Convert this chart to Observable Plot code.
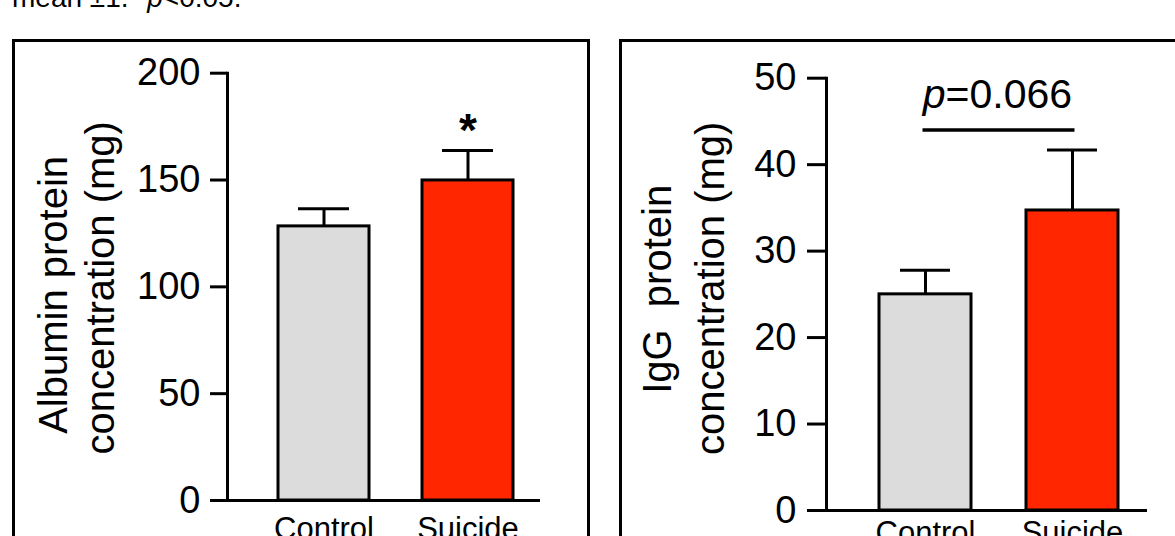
<!DOCTYPE html>
<html>
<head>
<meta charset="utf-8">
<script src="https://cdn.jsdelivr.net/npm/d3@7"></script>
<script src="https://cdn.jsdelivr.net/npm/@observablehq/plot@0.6"></script>
<style>
  html, body { margin: 0; padding: 0; width: 1175px; height: 536px; overflow: hidden; background: #fff;
    font-family: "Liberation Sans", Arial, Helvetica, sans-serif; color: #000; }
  #caption { position: absolute; left: 12px; top: -16px; font-size: 28px; line-height: 28px; white-space: nowrap; }
  .panel { position: absolute; top: 39px; height: 620px; border: 3px solid #000; box-sizing: border-box; }
  #p1 { left: 12px; width: 578px; }
  #p2 { left: 619px; width: 700px; }
  .chart { position: absolute; top: 43px; width: 570px; }
  .chart svg { max-width: none !important; }
  #c1 { left: 15px; }
  #c2 { left: 622px; }
</style>
</head>
<body>
<div id="caption">mean ±1. *<i>p</i>&lt;0.05.</div>
<div class="panel" id="p1"></div>
<div class="panel" id="p2"></div>
<div class="chart" id="c1"></div>
<div class="chart" id="c2"></div>
<script>
// ---- data ----
const groups = ["Control", "Suicide"];
const barColors = ["#dcdcdc", "#ff2600"];
const albuminMean = [128.3, 149.8];
const albuminErr = [8.3, 14.0];
const albuminSig = ["", "*"];
const albuminTicks = [0, 50, 100, 150, 200];
const iggMean = [25.0, 34.7];
const iggErr = [2.8, 7.0];
const iggTicks = [0, 10, 20, 30, 40, 50];
const iggComparison = [{from: "Control", to: "Suicide", y: 44, label: "=0.066"}];

const FONT = "'Liberation Sans', Arial, Helvetica, sans-serif";
const rowsOf = (means, errs, sig) => groups.map((g, i) => ({
  group: g, value: means[i], hi: means[i] + errs[i], sig: sig ? sig[i] : ""
}));
const albumin = rowsOf(albuminMean, albuminErr, albuminSig);
const igg = rowsOf(iggMean, iggErr, null);

function barMarks(rows, capInset) {
  return [
    Plot.barY(rows, {x: "group", y: "value", fill: "group", stroke: "#000", strokeWidth: 3}),
    Plot.ruleX(rows, {x: "group", y1: "value", y2: "hi", stroke: "#000", strokeWidth: 3}),
    Plot.tickY(rows, {x: "group", y: "hi", stroke: "#000", strokeWidth: 3, insetLeft: capInset, insetRight: capInset}),
    Plot.ruleY([0], {stroke: "#000", strokeWidth: 3}),
    Plot.frame({anchor: "left", stroke: "#000", strokeWidth: 3})
  ];
}
const plotStyle = {fontFamily: FONT, color: "#000", background: "none", overflow: "visible", maxWidth: "none"};

const left = Plot.plot({
  width: 570, height: 520,
  marginLeft: 212, marginRight: 45, marginTop: 29.7, marginBottom: 63,
  style: plotStyle,
  x: {type: "band", domain: groups, range: [209.5, 552], padding: 0.37, label: null},
  y: {domain: [0, 200], label: null},
  color: {domain: groups, range: barColors},
  marks: [
    ...barMarks(albumin, 20),
    Plot.text(albumin, {x: "group", y: "hi", text: "sig", fontSize: 46, fontWeight: "bold", lineAnchor: "bottom", dy: -5}),
    Plot.axisY({ticks: albuminTicks, tickSize: 17, tickPadding: 10, fontSize: 38, strokeWidth: 3, label: null, tickFormat: d => String(d)}),
    Plot.axisX({tickSize: 0, tickPadding: 16, fontSize: 31, label: null}),
    Plot.text(["Albumin protein"], {frameAnchor: "left", text: d => d, rotate: -90, fontSize: 40, textAnchor: "middle", lineAnchor: "bottom", dx: -161, dy: 8}),
    Plot.text(["concentration (mg)"], {frameAnchor: "left", text: d => d, rotate: -90, fontSize: 40, textAnchor: "middle", lineAnchor: "bottom", dx: -114, dy: 1})
  ]
});
document.getElementById("c1").appendChild(left);

const right = Plot.plot({
  width: 570, height: 520,
  marginLeft: 204, marginRight: 45, marginTop: 34.7, marginBottom: 53,
  style: plotStyle,
  x: {type: "band", domain: groups, range: [201, 552], padding: 0.372, label: null},
  y: {domain: [0, 50], label: null},
  color: {domain: groups, range: barColors},
  marks: [
    ...barMarks(igg, 21),
    Plot.ruleY(iggComparison, {y: "y", x1: "from", x2: "to", stroke: "#000", strokeWidth: 3.5, insetLeft: 43.5, insetRight: 43.5}),
    Plot.text(iggComparison, {x: "from", y: "y", text: () => "p", fontStyle: "italic", textAnchor: "end", lineAnchor: "bottom", fontSize: 41, dx: 20, dy: -22}),
    Plot.text(iggComparison, {x: "from", y: "y", text: "label", textAnchor: "start", lineAnchor: "bottom", fontSize: 41, dx: 20, dy: -22}),
    Plot.axisY({ticks: iggTicks, tickSize: 19, tickPadding: 11, fontSize: 38, strokeWidth: 3, label: null, tickFormat: d => String(d)}),
    Plot.axisX({tickSize: 0, tickPadding: 10, fontSize: 31, label: null}),
    Plot.text(["IgG\u00a0 protein"], {frameAnchor: "left", text: d => d, rotate: -90, fontSize: 40, textAnchor: "middle", lineAnchor: "bottom", dx: -156, dy: -5}),
    Plot.text(["concentration (mg)"], {frameAnchor: "left", text: d => d, rotate: -90, fontSize: 40, textAnchor: "middle", lineAnchor: "bottom", dx: -103, dy: -6})
  ]
});
document.getElementById("c2").appendChild(right);
</script>
</body>
</html>
